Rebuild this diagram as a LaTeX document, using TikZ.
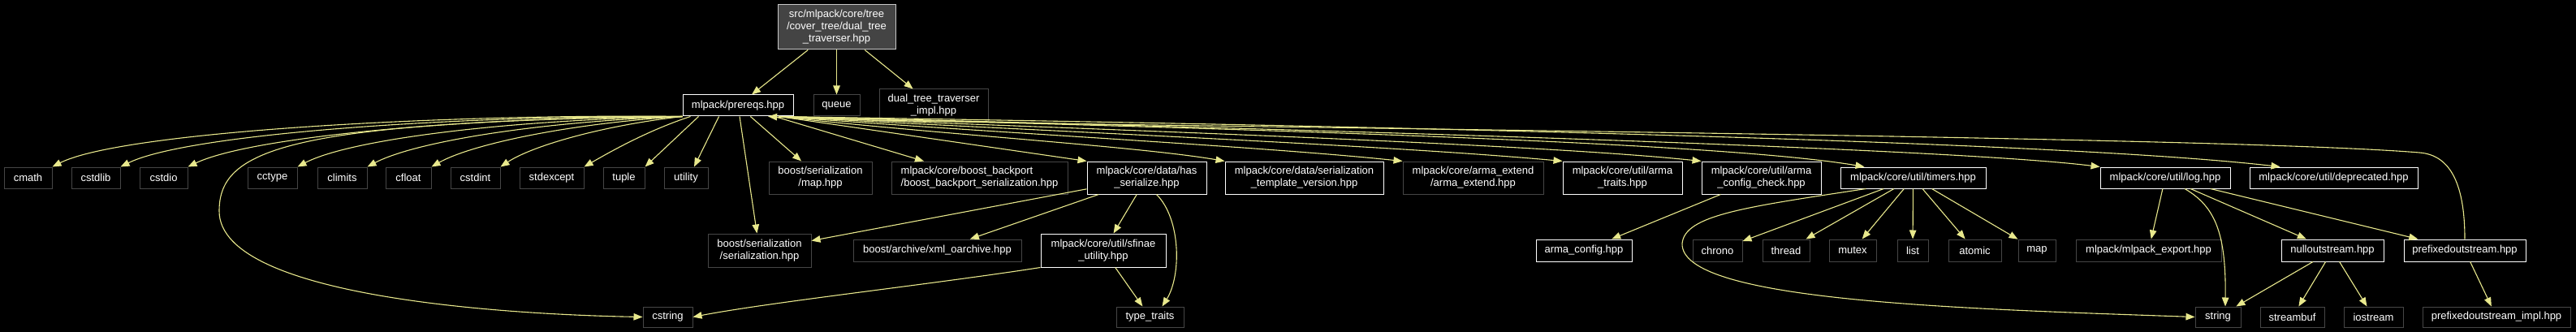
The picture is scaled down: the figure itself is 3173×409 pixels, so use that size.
\documentclass[tikz,border=0pt]{standalone}
\usepackage{fontspec}
\setmainfont{Liberation Sans}
\usepackage{xcolor}
\usetikzlibrary{arrows.meta}
\definecolor{edgecol}{RGB}{232,232,140}
\definecolor{dimline}{RGB}{70,70,70}
\definecolor{rootfill}{RGB}{68,68,68}
\definecolor{rootline}{RGB}{200,200,200}
\tikzset{
    hdr/.style={draw=white, fill=black, text=white, line width=1pt, inner sep=1pt, align=center, font=\fontsize{13}{15}\selectfont},
    sys/.style={hdr, draw=dimline},
    cur/.style={hdr, draw=rootline, fill=rootfill},
    sz/.style 2 args={minimum width=#1pt, minimum height=#2pt},
    dep/.style={draw=edgecol, line width=1.1pt, -{Triangle[length=11pt,width=8.5pt]}}
}

\begin{document}
\begin{tikzpicture}[x=1pt,y=1pt,yscale=-1,xscale=1]
%set diagram left start at 0, and has height of 409
\fill[black] (0,0) rectangle (3173,409);

% Text Node: the file itself
\node[cur, sz={145}{55}] (dualtrav) at (1030.5,33.5) {src/mlpack/core/tree\\/cover\_tree/dual\_tree\\\_traverser.hpp};

% Text Node: first row
\node[hdr, sz={136}{26}] (prereqs) at (909,130) {mlpack/prereqs.hpp};
\node[sys, sz={57}{26}] (queue) at (1030.5,130) {queue};
\node[sys, sz={134}{40}] (dualimpl) at (1150,130) {dual\_tree\_traverser\\\_impl.hpp};

% Text Node: second row
\node[sys, sz={59}{26}] (cmath) at (34.5,219) {cmath};
\node[sys, sz={60}{26}] (cstdlib) at (118,219) {cstdlib};
\node[sys, sz={59}{26}] (cstdio) at (201.5,219) {cstdio};
\node[sys, sz={61}{26}] (cctype) at (335.5,219) {cctype};
\node[sys, sz={61}{26}] (climits) at (421.5,219) {climits};
\node[sys, sz={56}{26}] (cfloat) at (503,219) {cfloat};
\node[sys, sz={61}{26}] (cstdint) at (585.5,219) {cstdint};
\node[sys, sz={79}{26}] (stdexcept) at (679.5,219) {stdexcept};
\node[sys, sz={51}{26}] (tuple) at (768.5,219) {tuple};
\node[sys, sz={54}{26}] (utility) at (845,219) {utility};
\node[sys, sz={127}{40}] (boostmap) at (1010.5,219) {boost/serialization\\/map.hpp};
\node[sys, sz={217}{40}, align=left] (backport) at (1206.5,219) {mlpack/core/boost\_backport\\/boost\_backport\_serialization.hpp};
\node[hdr, sz={147}{40}] (hasser) at (1412.5,219) {mlpack/core/data/has\\\_serialize.hpp};
\node[hdr, sz={195}{40}] (tmplver) at (1606.5,219) {mlpack/core/data/serialization\\\_template\_version.hpp};
\node[sys, sz={173}{40}] (armaext) at (1814.5,219) {mlpack/core/arma\_extend\\/arma\_extend.hpp};
\node[hdr, sz={147}{40}] (armatraits) at (1998.5,219) {mlpack/core/util/arma\\\_traits.hpp};
\node[hdr, sz={147}{40}] (armacheck) at (2169.5,219) {mlpack/core/util/arma\\\_config\_check.hpp};
\node[hdr, sz={179}{26}] (timers) at (2356.5,219) {mlpack/core/util/timers.hpp};
\node[hdr, sz={160}{26}] (log) at (2667,219) {mlpack/core/util/log.hpp};
\node[hdr, sz={207}{26}] (deprecated) at (2874.5,219) {mlpack/core/util/deprecated.hpp};

% Text Node: third row
\node[sys, sz={127}{41}] (boostser) at (935.5,308.5) {boost/serialization\\/serialization.hpp};
\node[sys, sz={207}{27}] (xmlarch) at (1154.5,308.5) {boost/archive/xml\_oarchive.hpp};
\node[hdr, sz={154}{41}] (sfinae) at (1359,308.5) {mlpack/core/util/sfinae\\\_utility.hpp};
\node[hdr, sz={118}{27}] (armaconfig) at (1951,308.5) {arma\_config.hpp};
\node[sys, sz={61}{27}] (chrono) at (2115.5,308.5) {chrono};
\node[sys, sz={58}{27}] (thread) at (2200,308.5) {thread};
\node[sys, sz={58}{27}] (mutex) at (2282,308.5) {mutex};
\node[sys, sz={38}{27}] (list) at (2356,308.5) {list};
\node[sys, sz={65}{27}] (atomic) at (2432.5,308.5) {atomic};
\node[sys, sz={46}{27}] (map) at (2509,308.5) {map};
\node[sys, sz={179}{27}] (export) at (2646.5,308.5) {mlpack/mlpack\_export.hpp};
\node[hdr, sz={126}{27}] (nullout) at (2873,308.5) {nulloutstream.hpp};
\node[hdr, sz={150}{27}] (prefout) at (3036,308.5) {prefixedoutstream.hpp};

% Text Node: last row
\node[sys, sz={61}{25}] (cstring) at (822.5,390.5) {cstring};
\node[sys, sz={83}{25}] (typetraits) at (1416.5,390.5) {type\_traits};
\node[sys, sz={56}{25}] (string) at (2732,390.5) {string};
\node[sys, sz={79}{25}] (streambuf) at (2823.5,390.5) {streambuf};
\node[sys, sz={73}{25}] (iostream) at (2923.5,390.5) {iostream};
\node[sys, sz={182}{25}] (prefimpl) at (3075,390.5) {prefixedoutstream\_impl.hpp};

% Edges from the file
\draw[dep] (dualtrav) -- (prereqs);
\draw[dep] (dualtrav) -- (queue);
\draw[dep] (dualtrav) -- (dualimpl);

% Edges from prereqs, left side
\draw[dep] (prereqs.south west) .. controls (550,140) and (150,162) .. (cmath.north east);
\draw[dep] (prereqs.south west) .. controls (560,142) and (230,165) .. (cstdlib.north east);
\draw[dep] (prereqs.south west) .. controls (580,144) and (310,168) .. (cstdio.north east);
\draw[dep] (prereqs.south west) .. controls (620,148) and (430,172) .. (cctype.north east);
\draw[dep] (prereqs.south west) .. controls (660,150) and (510,175) .. (climits.north east);
\draw[dep] (prereqs.south west) .. controls (700,152) and (580,178) .. (cfloat.north east);
\draw[dep] (prereqs.south west) .. controls (740,155) and (655,180) .. (cstdint.north east);
\draw[dep] ([xshift=10]prereqs.south west) .. controls (800,160) and (755,185) .. (stdexcept.north east);
\draw[dep] ([xshift=20]prereqs.south west) -- (tuple.north east);
\draw[dep] ([xshift=45]prereqs.south west) -- ([xshift=10]utility.north);
\draw[dep] (prereqs.south west) .. controls (350,150) and (270,185) .. (270,260) .. controls (270,370) and (650,388) .. (cstring.west);
\draw[dep] (prereqs) -- (boostser);
\draw[dep] (prereqs) -- (boostmap);
\draw[dep] (prereqs) -- (backport);

% Edges from prereqs, right side
\draw[dep] (prereqs.-15) -- (hasser.north west);
\draw[dep] (prereqs.-15) .. controls (1150,165) and (1400,180) .. (tmplver.north west);
\draw[dep] (prereqs.-15) .. controls (1200,162) and (1550,180) .. (armaext.north west);
\draw[dep] (prereqs.-15) .. controls (1250,160) and (1700,178) .. (armatraits.north west);
\draw[dep] (prereqs.-15) .. controls (1300,158) and (1880,176) .. (armacheck.north west);
\draw[dep] (prereqs.-15) .. controls (1400,156) and (2100,172) .. ([xshift=30]timers.north west);
\draw[dep] (prereqs.-15) .. controls (1450,155) and (2380,180) .. (log.north west);
\draw[dep] (prereqs.-15) .. controls (1500,152) and (2500,170) .. ([xshift=38]deprecated.north west);

% Edges from has_serialize and sfinae_utility
\draw[dep] (hasser) -- (boostser);
\draw[dep] (hasser) -- (xmlarch);
\draw[dep] (hasser) -- (sfinae);
\draw[dep] ([xshift=12]hasser.south) .. controls (1455,270) and (1455,340) .. ([xshift=15]typetraits.north);
\draw[dep] (sfinae.south west) .. controls (1150,350) and (950,372) .. (cstring.east);
\draw[dep] (sfinae) -- (typetraits);

% Edges from arma_config_check and timers
\draw[dep] (armacheck) -- (armaconfig);
\draw[dep] (timers) -- (chrono);
\draw[dep] (timers) -- (thread);
\draw[dep] (timers) -- (mutex);
\draw[dep] (timers) -- (list);
\draw[dep] (timers) -- (atomic);
\draw[dep] (timers) -- (map);
\draw[dep] ([xshift=-58]timers.south) .. controls (2150,255) and (2075,265) .. (2072,300) .. controls (2070,370) and (2400,380) .. (string.west);

% Edges from log and the streams
\draw[dep] (log) -- (export);
\draw[dep] ([xshift=24]log.south) .. controls (2730,255) and (2742,290) .. ([xshift=9]string.north);
\draw[dep] (log) -- (nullout);
\draw[dep] (log) -- (prefout);
\draw[dep] (nullout) -- (string);
\draw[dep] (nullout) -- (streambuf);
\draw[dep] (nullout) -- (iostream);
\draw[dep] (prefout) -- (prefimpl);
\draw[dep] (prefout.north) .. controls (3036,230) and (3020,191) .. (2980,188) .. controls (2700,165) and (1150,155) .. (prereqs.-20);

\end{tikzpicture}
\end{document}
